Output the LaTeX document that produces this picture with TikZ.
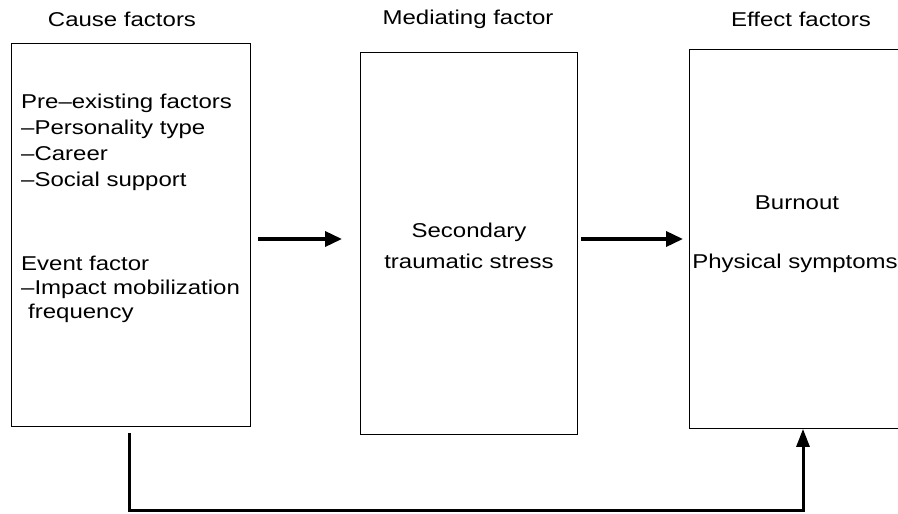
\documentclass[tikz,border=0pt]{standalone}
\usepackage{fontspec}
\setmainfont{Liberation Sans}[FakeStretch=1.2]
\usetikzlibrary{arrows.meta}
\begin{document}
\begin{tikzpicture}[x=1pt,y=-1pt,
  every node/.style={font=\fontsize{20}{25}\selectfont, inner sep=0pt},
  boxnode/.style={draw, line width=0.9pt, anchor=north west},
  thickarrow/.style={line width=3.6pt, -{Triangle[length=17pt,width=15pt]}},
  feedback/.style={line width=3pt, -{Triangle[length=18pt,width=13pt]}}]
\useasboundingbox (0,0) rectangle (898,514);
% boxes
\node[boxnode, minimum width=239pt, minimum height=383pt] (cause) at (11,43) {};
\node[boxnode, minimum width=217pt, minimum height=382pt] (med) at (360,52) {};
\node[boxnode, minimum width=225pt, minimum height=379pt] (eff) at (689,49) {};
% titles
\node (t1) at (122,19) {Cause factors};
\node (t2) at (468,19) {Mediating factor};
\node (t3) at (801,19) {Effect factors};
% left box text
\node[anchor=west, align=left, font=\fontsize{20}{26}\selectfont] (pre) at (21,142)
  {Pre–existing factors\\–Personality type\\–Career\\–Social support};
\node[anchor=west, align=left, font=\fontsize{20}{24}\selectfont] (ev) at (21,289)
  {Event factor\\–Impact mobilization\\\hspace{7pt}frequency};
% middle text
\node[align=center, font=\fontsize{20}{31}\selectfont] (sts) at (469,246)
  {Secondary\\traumatic stress};
% right text
\node (burn) at (797,203) {Burnout};
\node (phys) at (795,263) {Physical symptoms};
% arrows
\coordinate (ya) at (0,239);
\draw[thickarrow, shorten <=7pt, shorten >=18pt] (cause.east |- ya) -- (med.west |- ya);
\draw[thickarrow, shorten <=3pt, shorten >=6pt] (med.east |- ya) -- (eff.west |- ya);
% feedback connector
\coordinate (L) at (129,510);
\coordinate (R) at (803,510);
\draw[feedback, shorten <=6pt] (L |- cause.south) -- (L) -- (R) -- (R |- eff.south);
\end{tikzpicture}
\end{document}
